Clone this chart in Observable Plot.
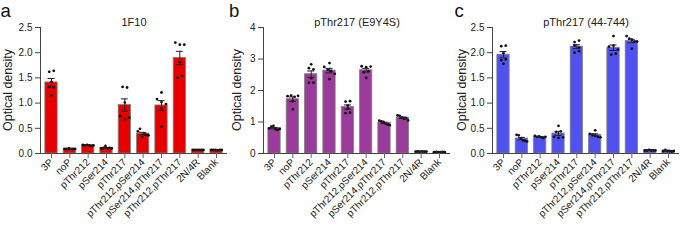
<!DOCTYPE html>
<html><head><meta charset="utf-8">
<script src="https://cdn.jsdelivr.net/npm/d3@7"></script>
<script src="https://cdn.jsdelivr.net/npm/@observablehq/plot@0.6"></script>
<style>
html,body{margin:0;padding:0;background:#fff;}
#fig{position:relative;width:685px;height:246px;overflow:hidden;font-family:"Liberation Sans",Arial,sans-serif;background:#fff;}
#fig svg{position:absolute;top:0;}
</style></head><body><div id="fig"></div>
<script>
const categories = ["3P","noP","pThr212","pSer214","pThr217","pThr212,pSer214","pSer214,pThr217","pThr212,pThr217","2N/4R","Blank"];
const panelLetters = ["a","b","c"];
const panelTitles = ["1F10","pThr217 (E9Y4S)","pThr217 (44-744)"];
const yAxisLabel = "Optical density";
const yTicksA = [0, 0.5, 1, 1.5, 2, 2.5];
const yTicksB = [0, 1, 2, 3, 4];
const yTicksC = [0, 0.5, 1, 1.5, 2, 2.5];

// six replicate optical densities per category
const od1F10 = [
  [1.62, 1.64, 1.42, 1.32, 1.31, 1.15],
  [0.09, 0.09, 0.10, 0.09, 0.09, 0.09],
  [0.17, 0.16, 0.17, 0.16, 0.15, 0.16],
  [0.10, 0.11, 0.15, 0.10, 0.11, 0.10],
  [1.32, 1.31, 1.01, 0.74, 0.68, 0.71],
  [0.44, 0.49, 0.33, 0.38, 0.37, 0.36],
  [1.21, 1.08, 1.02, 0.98, 0.90, 0.53],
  [2.20, 2.16, 2.16, 1.81, 1.50, 1.54],
  [0.07, 0.07, 0.07, 0.07, 0.07, 0.07],
  [0.07, 0.07, 0.07, 0.06, 0.07, 0.07]
];
const odE9Y4S = [
  [0.80, 0.85, 0.88, 0.77, 0.75, 0.78],
  [1.82, 1.84, 1.80, 1.83, 1.66, 1.40],
  [2.83, 2.71, 2.67, 2.39, 2.25, 2.25],
  [2.87, 2.75, 2.66, 2.62, 2.53, 2.36],
  [1.65, 1.66, 1.53, 1.42, 1.28, 1.30],
  [2.77, 2.74, 2.76, 2.58, 2.61, 2.40],
  [1.04, 1.02, 1.00, 0.95, 0.92, 0.90],
  [1.21, 1.19, 1.14, 1.10, 1.12, 1.05],
  [0.06, 0.07, 0.06, 0.07, 0.06, 0.06],
  [0.04, 0.05, 0.04, 0.04, 0.05, 0.04]
];
const od44744 = [
  [2.13, 2.14, 1.99, 1.85, 1.87, 1.78],
  [0.37, 0.36, 0.30, 0.26, 0.25, 0.24],
  [0.35, 0.33, 0.34, 0.32, 0.31, 0.33],
  [0.55, 0.43, 0.44, 0.33, 0.31, 0.32],
  [2.21, 2.24, 2.14, 2.10, 2.00, 2.03],
  [0.46, 0.39, 0.37, 0.35, 0.33, 0.32],
  [2.33, 2.12, 2.14, 2.06, 1.96, 1.98],
  [2.33, 2.28, 2.26, 2.22, 2.22, 2.08],
  [0.06, 0.06, 0.07, 0.06, 0.06, 0.06],
  [0.05, 0.07, 0.05, 0.05, 0.04, 0.05]
];

// layout / style config
const H = 246, MT = 27, MB = 93;
const XDOM = [-0.6, 9.6];
const FONT = '"Liberation Sans", Arial, sans-serif';
const panels = [
  {values: od1F10, yMax: 2.5, yTicks: yTicksA, fmt: d3.format(".1f"), color: "#e60000", left: 0, width: 228, mL: 40, mR: 1, labelX: 8},
  {values: odE9Y4S, yMax: 4, yTicks: yTicksB, fmt: d3.format("d"), color: "#9b3b9b", left: 228, width: 227, mL: 35, mR: 5, labelX: 9},
  {values: od44744, yMax: 2.5, yTicks: yTicksC, fmt: d3.format(".1f"), color: "#5151f0", left: 455, width: 230, mL: 37, mR: 6, labelX: 7}
];

function spread(vals, pxPerUnit) {
  const idx = d3.range(vals.length).sort((a, b) => vals[b] - vals[a]);
  const off = new Array(vals.length).fill(0);
  const clusters = [];
  let cur = [idx[0]];
  for (let k = 1; k < idx.length; k++) {
    if ((vals[idx[k - 1]] - vals[idx[k]]) * pxPerUnit < 3.2) cur.push(idx[k]);
    else { clusters.push(cur); cur = [idx[k]]; }
  }
  clusters.push(cur);
  for (const cl of clusters) {
    const n = cl.length, s = n > 1 ? Math.min(4.5, 10.5 / (n - 1)) : 0;
    cl.slice().sort((a, b) => a - b).forEach((j, k) => off[j] = (k - (n - 1) / 2) * s);
  }
  return off;
}

const fig = document.getElementById("fig");
panels.forEach((p, pi) => {
  const pxX = (p.width - p.mL - p.mR) / (XDOM[1] - XDOM[0]);
  const pxY = (H - MT - MB) / p.yMax;
  const summary = p.values.map((v, i) => ({i, mean: d3.mean(v), sem: d3.deviation(v) / Math.sqrt(v.length)}));
  const pts = p.values.flatMap((v, i) => {
    const off = spread(v, pxY);
    return v.map((y, j) => ({x: i + off[j] / pxX, y}));
  });
  const hw = 6.15 / pxX, cap = 3.5 / pxX;
  const chart = Plot.plot({
    width: p.width, height: H, marginLeft: p.mL, marginRight: p.mR, marginTop: MT, marginBottom: MB,
    x: {domain: XDOM}, y: {domain: [0, p.yMax]},
    style: {fontFamily: FONT, fontSize: "10px", color: "#222", background: "transparent", overflow: "visible"},
    marks: [
      Plot.rectY(summary, {x1: d => d.i - hw, x2: d => d.i + hw, y1: 0, y2: "mean", fill: p.color, stroke: "#808080", strokeWidth: 0.8}),
      Plot.dot(pts, {x: "x", y: "y", r: 1.4, fill: "#111", stroke: "none"}),
      Plot.ruleX(summary, {x: "i", y1: d => d.mean - d.sem, y2: d => d.mean + d.sem, stroke: "#222", strokeWidth: 1}),
      Plot.ruleY(summary, {y: d => d.mean + d.sem, x1: d => d.i - cap, x2: d => d.i + cap, stroke: "#222", strokeWidth: 1}),
      Plot.ruleY(summary, {y: d => d.mean - d.sem, x1: d => d.i - cap, x2: d => d.i + cap, stroke: "#222", strokeWidth: 1}),
      Plot.ruleY([0], {stroke: "#444"}),
      Plot.ruleX([XDOM[0]], {stroke: "#444"}),
      Plot.axisY({ticks: p.yTicks, tickFormat: p.fmt, tickSize: 5, tickPadding: 3, label: null, stroke: "#444"}),
      Plot.axisX({ticks: d3.range(categories.length), tickFormat: i => categories[i], tickRotate: -45, tickSize: 5, tickPadding: 2, label: null, stroke: "#666"}),
      Plot.text([panelTitles[pi]], {frameAnchor: "top", dy: -9.5, fontSize: 11, fill: "#222"})
    ]
  });
  chart.style.left = p.left + "px";
  fig.appendChild(chart);
});

// panel letters and y-axis titles
const overlay = d3.create("svg").attr("width", 685).attr("height", 246).style("left", "0px").style("pointer-events", "none");
const letterX = [0.5, 229, 454.5];
overlay.selectAll("text.letter").data(panelLetters).join("text").attr("class", "letter")
  .attr("x", (d, i) => letterX[i]).attr("y", 17)
  .attr("font-family", FONT).attr("font-size", 18.5).attr("fill", "#111")
  .text(d => d);
overlay.selectAll("text.ylab").data(panels).join("text").attr("class", "ylab")
  .attr("transform", p => `translate(${p.left + p.labelX},${(MT + H - MB) / 2}) rotate(-90)`)
  .attr("text-anchor", "middle").attr("dy", "0.35em")
  .attr("font-family", FONT).attr("font-size", 12.5).attr("fill", "#222")
  .text(yAxisLabel);
fig.appendChild(overlay.node());
</script></body></html>
